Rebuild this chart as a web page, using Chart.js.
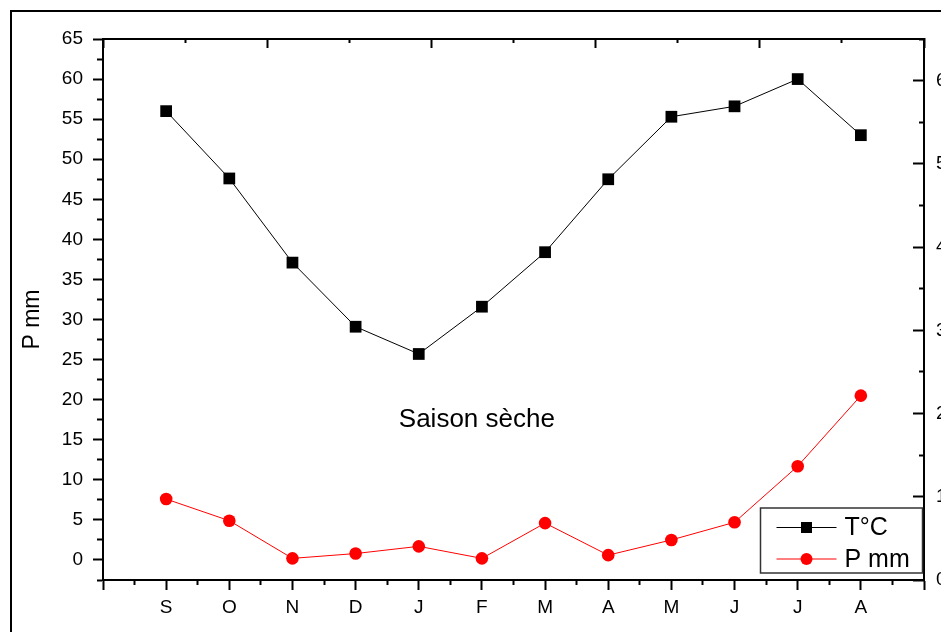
<!DOCTYPE html>
<html>
<head>
<meta charset="utf-8">
<script src="https://cdn.jsdelivr.net/npm/chart.js@4"></script>
<style>
  html, body { margin: 0; padding: 0; background: #fff; overflow: hidden; }
  #frame { position: absolute; left: 10px; top: 10px; width: 1000px; height: 700px; border: 2px solid #000; background: #fff; }
  #chart { display: block; }
</style>
</head>
<body>
<div id="frame"><canvas id="chart" width="1000" height="700"></canvas></div>
<script>
const months = ['S', 'O', 'N', 'D', 'J', 'F', 'M', 'A', 'M', 'J', 'J', 'A'];
const tempValues = [56.0, 47.6, 37.1, 29.1, 25.7, 31.6, 38.4, 47.5, 55.3, 56.6, 60.0, 53.0];
const rainValues = [7.6, 4.9, 0.2, 0.8, 1.7, 0.2, 4.6, 0.6, 2.5, 4.7, 11.7, 20.5];
const seriesNames = ['T°C', 'P mm'];
const axisTitle = 'P mm';
const seasonLabel = 'Saison sèche';

const FONT = '"Liberation Sans", Arial, sans-serif';

function onStep(v, step) {
    return Math.abs(v / step - Math.round(v / step)) < 1e-6;
}

function frameAxis(pos, tickLen, minorDash, isMajor, size) {
    return {
        position: pos,
        border: { display: true, color: '#000', width: 2 },
        grid: {
            drawOnChartArea: false,
            tickLength: tickLen,
            tickWidth: 2,
            tickColor: '#000',
            tickBorderDash: c => isMajor(c.tick.value) ? [] : minorDash
        },
        afterFit: s => {
            if (s.isHorizontal()) s.height = size; else s.width = size;
            s.paddingTop = 0; s.paddingBottom = 0; s.paddingLeft = 0; s.paddingRight = 0;
        }
    };
}

const xAxis = frameAxis('bottom', 10, [4, 50], v => onStep(v, 1), 132);
xAxis.type = 'linear';
xAxis.min = -1;
xAxis.max = 12;
xAxis.ticks = {
    stepSize: 0.5, autoSkip: false, maxRotation: 0, padding: 6, color: '#000',
    font: { family: FONT, size: 19 },
    callback: v => (onStep(v, 1) && v >= 0 && v < months.length) ? months[Math.round(v)] : ''
};

const x2Axis = frameAxis('top', -9, [0, 5, 20, 0], v => onStep(v, 1), 27);
x2Axis.type = 'linear';
x2Axis.min = 0;
x2Axis.max = 5;
x2Axis.ticks = { stepSize: 0.5, autoSkip: false, maxRotation: 0, callback: () => '' };

const yAxis = frameAxis('left', 10, [0, 4, 20, 0], v => onStep(v, 5), 91);
yAxis.min = -2.5;
yAxis.max = 65;
yAxis.ticks = {
    stepSize: 2.5, autoSkip: false, padding: 10, color: '#000',
    font: { family: FONT, size: 19 },
    callback: v => onStep(v, 5) ? String(Math.round(v)) : ''
};

const y2Axis = frameAxis('right', -11, [6, 50], v => onStep(v, 10), 88);
y2Axis.min = 0;
y2Axis.max = 65;
y2Axis.ticks = {
    stepSize: 5, autoSkip: false, padding: 23, color: '#000',
    font: { family: FONT, size: 19 },
    callback: v => onStep(v, 10) ? String(Math.round(v)) : ''
};

// titre d'axe, texte "Saison sèche" et légende encadrée
const decor = {
    id: 'decor',
    afterDatasetsDraw(chart) {
        const { ctx, chartArea: a, scales } = chart;
        ctx.save();
        ctx.fillStyle = '#000';
        ctx.textAlign = 'center';
        ctx.textBaseline = 'middle';

        ctx.save();
        ctx.translate(a.left - 70, scales.y.getPixelForValue(30));
        ctx.rotate(-Math.PI / 2);
        ctx.font = '23px ' + FONT;
        ctx.fillText(axisTitle, 0, 0);
        ctx.restore();

        ctx.font = '26px ' + FONT;
        ctx.fillText(seasonLabel, scales.x.getPixelForValue(4.92), scales.y.getPixelForValue(17.5));

        const right = a.right - 1.5, bottom = a.bottom - 7;
        const left = right - 162, top = bottom - 65;
        ctx.fillStyle = '#fff';
        ctx.fillRect(left, top, 162, 65);
        ctx.strokeStyle = '#333';
        ctx.lineWidth = 1.5;
        ctx.strokeRect(left, top, 162, 65);

        chart.data.datasets.forEach((ds, i) => {
            const ry = top + (i === 0 ? 19.5 : 51);
            ctx.strokeStyle = ds.borderColor;
            ctx.lineWidth = 1;
            ctx.beginPath();
            ctx.moveTo(left + 16, ry);
            ctx.lineTo(left + 76, ry);
            ctx.stroke();
            ctx.fillStyle = ds.pointBackgroundColor;
            if (ds.pointStyle === 'rect') {
                ctx.fillRect(left + 46 - 5.5, ry - 5.5, 11, 11);
            } else {
                ctx.beginPath();
                ctx.arc(left + 46, ry, 6, 0, Math.PI * 2);
                ctx.fill();
            }
            ctx.fillStyle = '#000';
            ctx.textAlign = 'left';
            ctx.font = '25px ' + FONT;
            ctx.fillText(ds.label, left + 84, ry + 1);
        });
        ctx.restore();
    }
};

new Chart(document.getElementById('chart'), {
    type: 'line',
    data: {
        datasets: [{
            label: seriesNames[0],
            data: tempValues.map((v, i) => ({ x: i, y: v })),
            borderColor: '#000',
            borderWidth: 1,
            pointStyle: 'rect',
            pointRadius: 8.3,
            pointBackgroundColor: '#000',
            pointBorderWidth: 0,
            tension: 0,
            yAxisID: 'y'
        }, {
            label: seriesNames[1],
            data: rainValues.map((v, i) => ({ x: i, y: v })),
            borderColor: '#ff0000',
            borderWidth: 1,
            pointStyle: 'circle',
            pointRadius: 6.3,
            pointBackgroundColor: '#ff0000',
            pointBorderWidth: 0,
            tension: 0,
            yAxisID: 'y'
        }]
    },
    options: {
        responsive: false,
        animation: false,
        layout: { padding: 0 },
        plugins: { legend: { display: false }, tooltip: { enabled: false } },
        scales: { x: xAxis, x2: x2Axis, y: yAxis, y2: y2Axis }
    },
    plugins: [decor]
});
</script>
</body>
</html>
